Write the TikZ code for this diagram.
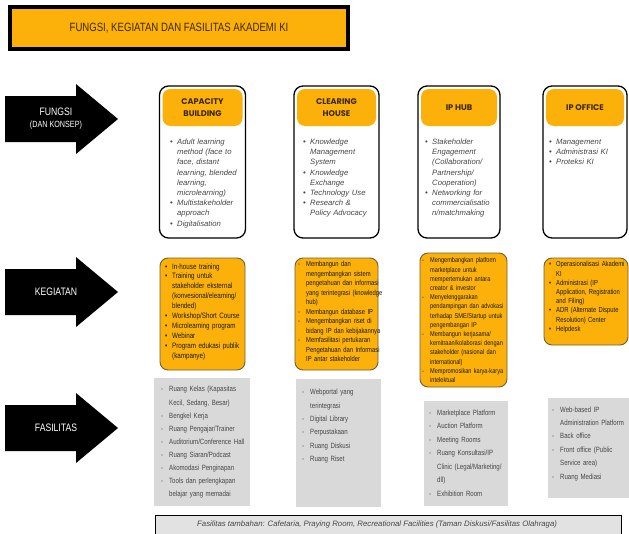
\documentclass[tikz,border=0pt]{standalone}
\usepackage{fontspec}
\setmainfont{Liberation Sans}
\newfontfamily\narrowfont{Liberation Sans}[FakeStretch=0.8]
\newfontfamily\headfont{Poppins}
\usepackage{xcolor}

\definecolor{kiorange}{RGB}{252,177,10}
\definecolor{kigray}{RGB}{217,217,217}
\definecolor{kitext}{RGB}{70,70,70}
\definecolor{kiedge}{RGB}{110,95,60}
\definecolor{kititle}{RGB}{60,40,0}

% list items with hanging indent
\newcommand{\bitem}[1]{\par\hangindent=7pt\hangafter=1\noindent\makebox[7pt][l]{\textbullet}#1}
\newcommand{\ditem}[1]{\par\hangindent=8pt\hangafter=1\noindent\makebox[8pt][l]{-}#1}

\begin{document}
\begin{tikzpicture}[x=1pt, y=-1pt]
    % ================= styles =================
    \tikzset{
        % title bar
        titlebox/.style={draw=black, line width=3.5pt, fill=kiorange, text=kititle, font=\narrowfont\fontsize{12}{14}\selectfont},
        % black arrows on the left
        bigarrow/.style={fill=black},
        arrowtext/.style={text=white, align=center, font=\narrowfont\fontsize{10.8}{12}\selectfont},
        % "Fungsi" cards
        cardbox/.style={draw=black, line width=1.3pt, rounded corners=9pt, fill=white},
        cardhead/.style={fill=kiorange, rounded corners=8pt, align=center, font=\headfont\bfseries\fontsize{8.2}{12}\selectfont, text=kititle},
        cardtext/.style={anchor=north west, inner sep=0pt, text width=80pt, align=left, text=kitext, font=\itshape\fontsize{7.7}{10.2}\selectfont},
        % "Kegiatan" boxes
        actbox/.style={draw=kiedge, line width=0.9pt, rounded corners=8pt, fill=kiorange},
        acttext/.style={anchor=north west, inner sep=0pt, text width=90pt, align=left, text=black!90, font=\narrowfont\fontsize{7.8}{9.9}\selectfont},
        % "Fasilitas" boxes
        facbox/.style={fill=kigray},
        factext/.style={anchor=north west, inner sep=0pt, text width=90pt, align=left, text=kitext, font=\narrowfont\fontsize{7.6}{13.2}\selectfont},
        % bottom bar
        extrabox/.style={draw=black, line width=1pt, fill=kigray!75}
    }
    \useasboundingbox (0,0) rectangle (629,533);

    % ================= title =================
    \node[titlebox, minimum width=338, minimum height=42] (title) at (179,28) {FUNGSI, KEGIATAN DAN FASILITAS AKADEMI KI};

    % ================= arrows =================
    \foreach \ay/\aname/\atext in {119/fungsi/{FUNGSI\\{\fontsize{9}{10}\selectfont(DAN KONSEP)}}, 292/kegiatan/KEGIATAN, 428/fasilitas/FASILITAS}{
        \fill[bigarrow] (5,\ay-23) -- (76,\ay-23) -- (76,\ay-35) -- (118,\ay) -- (76,\ay+35) -- (76,\ay+23) -- (5,\ay+23) -- cycle;
        \node[arrowtext] (\aname) at (56,\ay) {\atext};
    }

    % ================= fungsi cards =================
    \node[cardbox, minimum width=86, minimum height=152] (cbcard) at (202.5,162) {};
    \node[cardbox, minimum width=85, minimum height=152] (chcard) at (336.5,162) {};
    \node[cardbox, minimum width=82, minimum height=152] (hubcard) at (459,162) {};
    \node[cardbox, minimum width=84, minimum height=152] (offcard) at (585,162) {};

    \node[cardhead, minimum width=80, minimum height=37] (cbhead) at (202.5,107.5) {CAPACITY\\BUILDING};
    \node[cardhead, minimum width=79, minimum height=37] (chhead) at (336.5,107.5) {CLEARING\\HOUSE};
    \node[cardhead, minimum width=76, minimum height=37] (hubhead) at (459,107.5) {IP HUB};
    \node[cardhead, minimum width=78, minimum height=37] (offhead) at (585,107.5) {IP OFFICE};

    \node[cardtext] (cbtext) at (170,134) {
        \bitem{Adult learning\newline method (face to\newline face, distant\newline learning, blended\newline learning,\newline microlearning)}
        \bitem{Multistakeholder\newline approach}
        \bitem{Digitalisation}\par};
    \node[cardtext] (chtext) at (303,134) {
        \bitem{Knowledge\newline Management\newline System}
        \bitem{Knowledge\newline Exchange}
        \bitem{Technology Use}
        \bitem{Research \&\newline Policy Advocacy}\par};
    \node[cardtext] (hubtext) at (425,134) {
        \bitem{Stakeholder\newline Engagement\newline (Collaboration/\newline Partnership/\newline Cooperation)}
        \bitem{Networking for\newline commercialisatio\newline n/matchmaking}\par};
    \node[cardtext] (offtext) at (549,134) {
        \bitem{Management}
        \bitem{Administrasi KI}
        \bitem{Proteksi KI}\par};

    % ================= kegiatan =================
    \node[actbox, minimum width=85, minimum height=112] (cbact) at (202.5,314) {};
    \node[actbox, minimum width=83, minimum height=112] (chact) at (336.5,314) {};
    \node[actbox, minimum width=87, minimum height=134] (hubact) at (463.5,320) {};
    \node[actbox, minimum width=84, minimum height=87] (offact) at (586,301.5) {};

    \node[acttext] (cbacttext) at (165,258.9) {
        \bitem{In-house training}
        \bitem{Training untuk\newline stakeholder eksternal\newline (konvesional/elearning/\newline blended)}
        \bitem{Workshop/Short Course}
        \bitem{Microlearning program}
        \bitem{Webinar}
        \bitem{Program edukasi publik\newline (kampanye)}\par};
    \node[acttext, font=\narrowfont\fontsize{7.3}{9.5}\selectfont] (chacttext) at (298,257.2) {
        \ditem{Membangun dan\newline mengembangkan sistem\newline pengetahuan dan informasi\newline yang terintegrasi (knowledge\newline hub)}
        \ditem{Membangun database IP}
        \ditem{Mengembangkan riset di\newline bidang IP dan kebijakannya}
        \ditem{Memfasilitasi pertukaran\newline Pengetahuan dan Informasi\newline IP antar stakeholder}\par};
    \node[acttext, font=\narrowfont\fontsize{7}{9.2}\selectfont] (hubacttext) at (422,253.4) {
        \ditem{Mengembangkan platform\newline marketplace untuk\newline mempertemukan antara\newline creator \& investor}
        \ditem{Menyelenggarakan\newline pendampingan dan advokasi\newline terhadap SME/Startup untuk\newline pengembangan IP}
        \ditem{Membangun kerjasama/\newline kemitraan/kolaborasi dengan\newline stakeholder (nasional dan\newline international)}
        \ditem{Mempromosikan karya-karya\newline intelektual}\par};
    \node[acttext, font=\narrowfont\fontsize{7.3}{9.2}\selectfont] (offacttext) at (549,257.4) {
        \bitem{Operasionalisasi Akademi\newline KI}
        \bitem{Administrasi (IP\newline Application, Registration\newline and Filing)}
        \bitem{ADR (Alternate Dispute\newline Resolution) Center}
        \bitem{Helpdesk}\par};

    % ================= fasilitas =================
    \node[facbox, minimum width=96, minimum height=128] (cbfac) at (202,442) {};
    \node[facbox, minimum width=85, minimum height=128] (chfac) at (338.5,443) {};
    \node[facbox, minimum width=84, minimum height=105] (hubfac) at (466,453.5) {};
    \node[facbox, minimum width=81, minimum height=100] (offfac) at (588.5,448) {};

    \node[factext, font=\narrowfont\fontsize{7.6}{13.1}\selectfont] (cbfactext) at (161,378.6) {
        \ditem{Ruang Kelas (Kapasitas\newline Kecil, Sedang, Besar)}
        \ditem{Bengkel Kerja}
        \ditem{Ruang Pengajar/Trainer}
        \ditem{Auditorium/Conference Hall}
        \ditem{Ruang Siaran/Podcast}
        \ditem{Akomodasi Penginapan}
        \ditem{Tools dan perlengkapan\newline belajar yang memadai}\par};
    \node[factext, font=\narrowfont\fontsize{7.6}{13.3}\selectfont] (chfactext) at (302,381.4) {
        \ditem{Webportal yang\newline terintegrasi}
        \ditem{Digital Library}
        \ditem{Perpustakaan}
        \ditem{Ruang Diskusi}
        \ditem{Ruang Riset}\par};
    \node[factext, font=\narrowfont\fontsize{7.6}{13.5}\selectfont] (hubfactext) at (429,401.3) {
        \ditem{Marketplace Platform}
        \ditem{Auction Platform}
        \ditem{Meeting Rooms}
        \ditem{Ruang Konsultasi/IP\newline Clinic  (Legal/Marketing/\newline dll)}
        \ditem{Exhibition Room}\par};
    \node[factext, font=\narrowfont\fontsize{7.6}{13.4}\selectfont] (offfactext) at (552,398.4) {
        \ditem{Web-based IP\newline Administration Platform}
        \ditem{Back office}
        \ditem{Front office (Public\newline Service area)}
        \ditem{Ruang Mediasi}\par};

    % ================= fasilitas tambahan =================
    \node[extrabox, minimum width=466, minimum height=22, anchor=north west] (extra) at (155,515) {};
    \node[anchor=west, inner sep=0pt, text=kitext, font=\itshape\fontsize{7.8}{9}\selectfont] (extratext) at (197,524) {Fasilitas tambahan: Cafetaria, Praying Room, Recreational Facilities (Taman Diskusi/Fasilitas Olahraga)};
\end{tikzpicture}
\end{document}
